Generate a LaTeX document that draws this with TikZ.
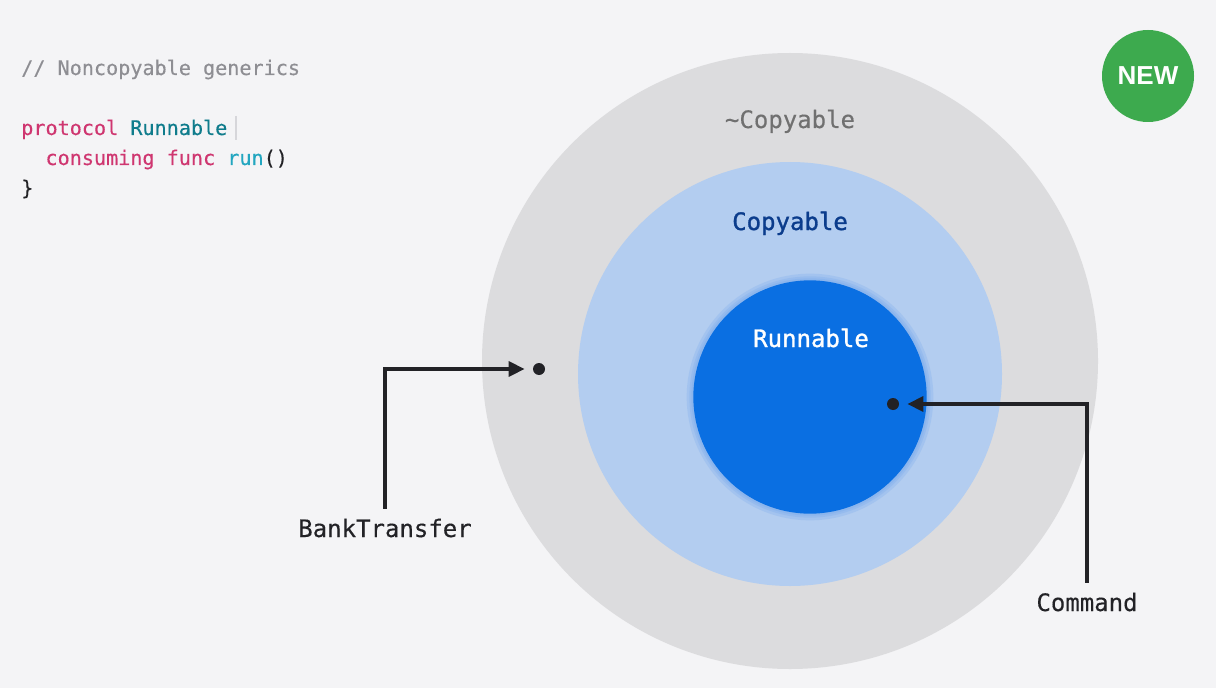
\documentclass[tikz,border=0pt]{standalone}
\usepackage{fontspec}
\setmonofont{DejaVu Sans Mono}[FakeBold=0.3]
\newfontfamily\monomed{DejaVu Sans Mono}[FakeBold=1.2]
\newfontfamily\badgefont{Liberation Sans}
\usetikzlibrary{arrows.meta}
\definecolor{bg}{HTML}{F4F4F6}
\definecolor{outergray}{HTML}{DCDCDE}
\definecolor{lightblue}{HTML}{B3CDF0}
\definecolor{darkblue}{HTML}{0A6FE2}
\definecolor{glowblue}{HTML}{5B9BEB}
\definecolor{tildegray}{HTML}{707070}
\definecolor{navy}{HTML}{0B3C8C}
\definecolor{ink}{HTML}{222226}
\definecolor{badgegreen}{HTML}{3DAA4E}
\definecolor{kwpink}{HTML}{CF3670}
\definecolor{typeteal}{HTML}{0F7C8C}
\definecolor{funccyan}{HTML}{22A6C0}
\definecolor{commentgray}{HTML}{8E8E93}
\definecolor{cursorgray}{HTML}{D6D6DA}
\tikzset{
  ring/.style={circle, inner sep=0pt, draw=none},
  glowring/.style={circle, inner sep=0pt, draw=none, fill=glowblue, opacity=0.18},
  biglabel/.style={font=\ttfamily\fontsize{18}{22}\selectfont, inner sep=0pt, anchor=base},
  medlabel/.style={font=\monomed\fontsize{18}{22}\selectfont, inner sep=0pt, anchor=base},
  codeline/.style={font=\ttfamily\fontsize{15.1}{18}\selectfont, inner sep=0pt, anchor=base west},
  pointer/.style={circle, fill=ink, inner sep=0pt, minimum size=9pt},
  namelabel/.style={font=\ttfamily\fontsize{18}{22}\selectfont, text=ink, inner xsep=0pt, inner ysep=7.5pt, anchor=base},
  conn/.style={draw=ink, line width=3pt, -{Triangle[length=12pt,width=11pt]}, shorten >=6pt}
}
\begin{document}
\begin{tikzpicture}[x=0.75pt,y=-0.75pt]
\useasboundingbox (0,0) rectangle (1216,688);
\fill[bg] (0,0) rectangle (1216,688);

% code
\node[codeline, text=commentgray] (c1) at (21,75) {// Noncopyable generics};
\node[codeline] (c2) at (21,135) {\textcolor{kwpink}{protocol} \textcolor{typeteal}{Runnable}};
\node[codeline] (c3) at (21,165) {\textcolor{kwpink}{\ \ consuming func} \textcolor{funccyan}{run}\textcolor{ink}{()}};
\node[codeline, text=ink] (c4) at (21,195) {\}};
\coordinate (cur1) at (236,116);
\coordinate (cur2) at (236,140);
\draw[cursorgray, line width=0.8pt] (cur1) -- (cur2);

% badge
\node[ring, fill=badgegreen, minimum size=69pt, text=white, font=\badgefont\bfseries\fontsize{19.5}{22}\selectfont] (badge) at (1148,76) {NEW};

% circles
\node[ring, fill=outergray, minimum size=462pt] (outer) at (790,361) {};
\node[ring, fill=lightblue, minimum size=318pt] (mid) at (790,374) {};
\node[glowring, minimum size=185pt] (glow1) at (810,397) {};
\node[glowring, minimum size=181pt] (glow2) at (810,397) {};
\node[glowring, minimum size=178pt] (glow3) at (810,397) {};
\node[ring, fill=darkblue, minimum size=175pt] (inner) at (810,397) {};

% labels
\node[biglabel, text=tildegray] (ltilde) at (790,128) {\textasciitilde Copyable};
\node[medlabel, text=navy] (lcopy) at (790,230) {Copyable};
\node[medlabel, text=white] (lrun) at (811,347) {Runnable};

% pointers
\node[pointer] (d1) at (539,369) {};
\node[pointer] (d2) at (893,404) {};
\node[namelabel] (bt) at (385,537) {BankTransfer};
\node[namelabel] (cmd) at (1087,611) {Command};

\draw[conn] (bt.north) |- (d1);
\draw[conn] (cmd.north) |- (d2);
\end{tikzpicture}
\end{document}
